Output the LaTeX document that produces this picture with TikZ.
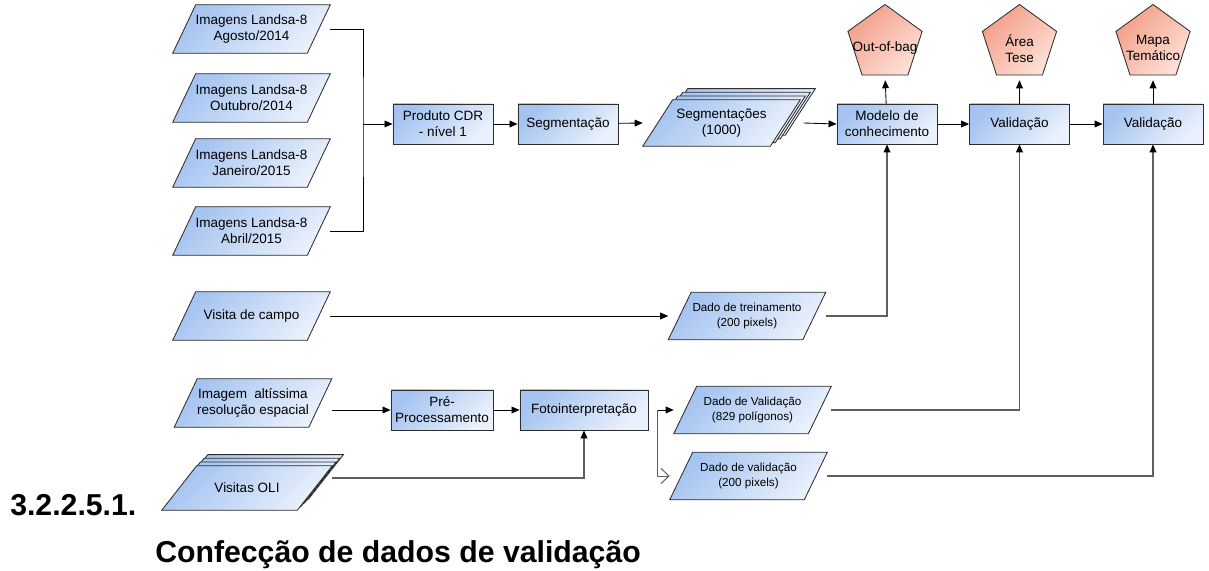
\documentclass[tikz,border=0pt]{standalone}
\usepackage{fontspec}
\setmainfont{Liberation Sans}
\usetikzlibrary{arrows.meta,shapes.geometric,calc,backgrounds}

\definecolor{boxtop}{RGB}{164,195,240}
\definecolor{boxbot}{RGB}{234,241,252}
\definecolor{penttop}{RGB}{242,158,136}
\definecolor{pentbot}{RGB}{253,224,214}
\definecolor{edge}{RGB}{45,45,45}
\definecolor{conn}{RGB}{95,95,95}

% parallelogram behind a node: node, slant, dx, dy (px)
\newcommand{\dataframe}[4]{%
  \path[bluefill] ($(#1.south west)+(#3,#4)$) -- ($(#1.north west)+(#2+#3,#4)$)
    -- ($(#1.north east)+(#3,#4)$) -- ($(#1.south east)+(-#2+#3,#4)$) -- cycle;}

\tikzset{
  bluefill/.style={draw=edge, line width=0.6pt, top color=boxtop, bottom color=boxbot, shading angle=45},
  procbox/.style={bluefill, rectangle, minimum width=2.5cm, minimum height=1cm, inner sep=1pt,
    align=center, font=\fontsize{9.6}{11.3}\selectfont},
  databox/.style={rectangle, minimum width=3.925cm, minimum height=1.2cm, inner sep=0pt,
    align=center, font=\fontsize{9.6}{11.3}\selectfont},
  smalldata/.style={databox, minimum height=1.175cm, font=\fontsize{8.3}{10.2}\selectfont},
  outbox/.style={regular polygon, regular polygon sides=5, minimum size=1.95cm, inner sep=0pt,
    draw=edge, line width=0.6pt, top color=penttop, bottom color=pentbot, shading angle=45},
  outtext/.style={align=center, inner sep=0pt, yshift=-0.12cm, font=\fontsize{9.6}{11.3}\selectfont},
  arr/.style={line width=0.6pt, -{Triangle[length=0.2cm,width=0.17cm]}},
  graylink/.style={draw=conn, line width=0.9pt, -{Triangle[length=0.2cm,width=0.17cm,color=black]}},
  openarr/.style={draw=conn, line width=0.7pt, -{Straight Barb[length=0.2cm,width=0.38cm]}},
  heading/.style={anchor=base west, inner sep=0pt, font=\fontsize{21.5}{25}\selectfont\bfseries}
}

\begin{document}
\begin{tikzpicture}[x=0.025cm, y=-0.025cm]
  \useasboundingbox (0,0) rectangle (1209,571);
  %Landsat images
  \node[databox] (ago) at (251.5,29) {Imagens Landsa-8\\Agosto/2014};
  \node[databox] (out) at (251.5,98) {Imagens Landsa-8\\Outubro/2014};
  \node[databox] (jan) at (251.5,163) {Imagens Landsa-8\\Janeiro/2015};
  \node[databox] (abr) at (251.5,231) {Imagens Landsa-8\\Abril/2015};
  %field and photo data
  \node[databox] (campo) at (251.5,316) {Visita de campo};
  \node[databox] (alt) at (253,403) {Imagem\ \ altíssima\\resolução espacial};
  \node[databox, minimum width=4.25cm, minimum height=1.1cm] (oli) at (247,488) {Visitas OLI};
  %top chain
  \node[procbox] (cdr) at (443,124) {Produto CDR\\- nível 1};
  \node[procbox] (seg) at (568,124) {Segmentação};
  \node[databox, minimum height=1.15cm] (segs) at (721.5,123) {Segmentações\\(1000)};
  \node[procbox] (modelo) at (887,124) {Modelo de\\conhecimento};
  \node[procbox] (val1) at (1019.5,124) {Validação};
  \node[procbox] (val2) at (1153,124) {Validação};
  %outputs
  \node[outbox, label={[outtext]center:Out-of-bag}] (oob) at (885,43.5) {};
  \node[outbox, label={[outtext]center:Área\\Tese}] (tese) at (1019.5,43.5) {};
  \node[outbox, label={[outtext]center:Mapa\\Temático}] (mapa) at (1153,43.5) {};
  %lower chain
  \node[procbox, minimum width=2.55cm] (pre) at (442,410) {Pré-\\Processamento};
  \node[procbox, minimum width=3.2cm] (foto) at (584,410) {Fotointerpretação};
  \node[smalldata] (treino) at (747,316) {Dado de treinamento\\(200 pixels)};
  \node[smalldata] (dval) at (752.5,410) {Dado de Validação\\(829 polígonos)};
  \node[smalldata] (dval2) at (748.5,476) {Dado de validação\\(200 pixels)};
  %section heading
  \node[heading] (num) at (10,515) {3.2.2.5.1.};
  \node[heading] (titulo) at (155,562) {Confecção de dados de validação};

  %parallelograms
  \begin{scope}[on background layer]
    \foreach \n in {ago,out,jan,abr,campo,alt,treino,dval,dval2}
      {\dataframe{\n}{23}{0}{0}}
    \foreach \k in {3,2,1}
      {\dataframe{segs}{30}{5*\k}{-3.7*\k}}
    \dataframe{segs}{30}{0}{0}
    \foreach \k in {3,2,1}
      {\dataframe{oli}{35}{3.7*\k}{-3.7*\k}}
    \dataframe{oli}{35}{0}{0}
  \end{scope}

  %Landsat bracket
  \coordinate (junta) at (363,124);
  \draw[line width=0.7pt] (ago.east) -| (junta) |- (abr.east);
  \draw[arr] (junta) -- (cdr.west);
  %top chain
  \draw[arr] (cdr) -- (seg);
  \draw[arr] (seg) -- (segs.west);
  \draw[arr] ([xshift=0.08cm]segs.east) -- (modelo.west);
  \draw[arr] (modelo) -- (val1);
  \draw[arr] (val1) -- (val2);
  \draw[arr, shorten >=0.12cm] (modelo) -- (oob.south);
  \draw[arr, shorten >=0.12cm] (val1) -- (tese.south);
  \draw[arr, shorten >=0.12cm] (val2) -- (mapa.south);
  %training data
  \draw[arr] (campo.east) -- (treino.west);
  \draw[graylink] (treino.east) -| (modelo.south);
  %photo interpretation
  \draw[arr] (alt.east |- pre) -- (pre.west);
  \draw[arr] (pre) -- (foto);
  \draw[graylink] ([yshift=0.25cm]oli.east) -| (foto.south);
  \coordinate (split) at ($(foto.east)+(9,0)$);
  \draw[arr] (split) -- (dval.west);
  \draw[openarr] (split) |- (dval2.west);
  %validation data
  \draw[graylink] (dval.east) -| (val1.south);
  \draw[graylink] (dval2.east) -| (val2.south);
\end{tikzpicture}
\end{document}
